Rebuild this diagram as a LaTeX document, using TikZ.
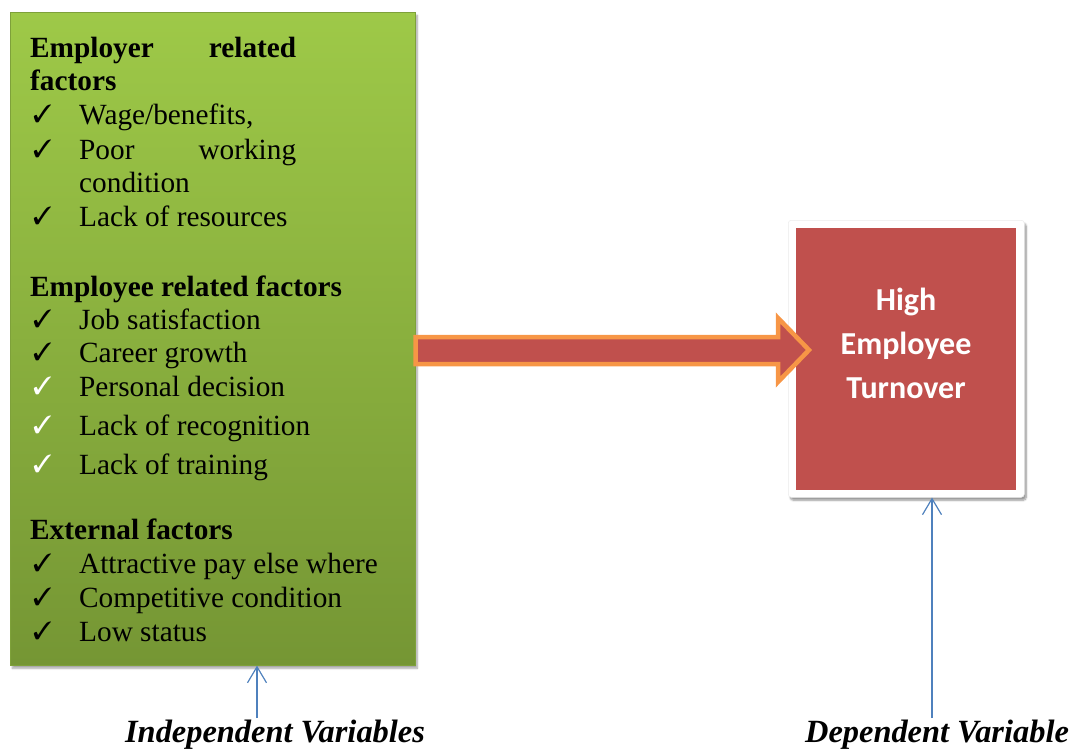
\documentclass[tikz,border=0pt]{standalone}
\usepackage{fontspec}
\usepackage{pifont}
\setmainfont{Liberation Serif}
\newfontfamily\boxfont{Carlito}
\usetikzlibrary{arrows.meta,shadows.blur,positioning}
\definecolor{greentop}{RGB}{158,201,72}
\definecolor{greenbot}{RGB}{117,150,52}
\definecolor{turnred}{RGB}{192,80,77}
\definecolor{arroworange}{RGB}{247,150,70}
\definecolor{varblue}{RGB}{79,129,189}

% check mark followed by the item text
\newcommand{\tick}[1]{\makebox[46pt][l]{\raisebox{2pt}{\scalebox{0.85}{\ding{51}}}}#1}
\newcommand{\wtick}[1]{\makebox[46pt][l]{\raisebox{2pt}{\scalebox{0.85}{\textcolor{white}{\ding{51}}}}}#1}

\begin{document}
\begin{tikzpicture}[
  x=1pt, y=-1pt,
  line/.style={anchor=base west, inner sep=0pt, font=\fontsize{29.3}{33}\selectfont},
  varlabel/.style={anchor=base, inner sep=0pt, font=\fontsize{32.4}{36}\selectfont\bfseries\itshape},
  blockarr/.style={draw=arroworange, fill=turnred, line width=4.5pt, line join=miter},
  varline/.style={draw=varblue, line width=1.2pt, -{Straight Barb[length=16pt, width=19pt, line width=1.2pt]}}
]
\useasboundingbox (0,0) rectangle (1071,749);

% factor box
\node[draw=greentop!80!black, line width=0.6pt, shading=axis, top color=greentop, bottom color=greenbot,
      minimum width=405pt, minimum height=653pt, anchor=north west, inner sep=0pt,
      blur shadow={shadow xshift=2pt, shadow yshift=-3pt, shadow blur steps=6, shadow opacity=35}]
      (factors) at (10,12) {};

% employer related factors
\node[line] (emp1) at (30,58) {\hbox to 266pt{\bfseries Employer\hfill related}};
\node[line] (emp2) at (30,91) {\bfseries factors};
\node[line] (wage) at (33,125) {\tick{Wage/benefits,}};
\node[line] (poor) at (33,160) {\hbox to 263pt{\tick{Poor}\hfill working}};
\node[line] (cond) at (79,192) {condition};
\node[line] (lack) at (33,226) {\tick{Lack of resources}};

% employee related factors
\node[line] (empl) at (30,296) {\bfseries Employee related factors};
\node[line] (job) at (33,329) {\tick{Job satisfaction}};
\node[line] (career) at (33,362) {\tick{Career growth}};
\node[line] (pers) at (33,396) {\wtick{Personal decision}};
\node[line] (recog) at (33,435) {\wtick{Lack of recognition}};
\node[line] (train) at (33,474) {\wtick{Lack of training}};

% external factors
\node[line] (ext) at (30,539) {\bfseries External factors};
\node[line] (pay) at (33,573) {\tick{Attractive pay else where}};
\node[line] (comp) at (33,607) {\tick{Competitive condition}};
\node[line] (low) at (33,641) {\tick{Low status}};

% outcome box
\node[fill=white, draw=black!8, line width=0.5pt, rounded corners=3pt, minimum width=236pt, minimum height=277pt, anchor=north west,
      blur shadow={shadow xshift=2pt, shadow yshift=-3pt, shadow blur steps=6, shadow opacity=40}]
      (frame) at (788,220) {};
\node[fill=turnred, minimum width=220pt, minimum height=262pt, anchor=north west, inner sep=0pt]
      (turnover) at (796,228) {};
\node[text=white, align=center, font=\fontsize{32}{44}\selectfont\boxfont\bfseries]
      (turntext) at (906,343) {High\\Employee\\Turnover};

% block arrow between the boxes
\coordinate (tip) at (809,350);
\draw[blockarr] (factors.east |- 0,337) -- (778,337) -- (778,318) -- (tip)
  -- (778,382) -- (778,364) -- (factors.east |- 0,364) -- cycle;

% variable labels
\node[varlabel] (indep) at (275,742) {Independent Variables};
\node[varlabel] (dep) at (937,742) {Dependent Variable};
\coordinate (indeptop) at (257,718);
\coordinate (deptop) at (932,718);
\draw[varline] (indeptop) -- (factors.south -| indeptop);
\draw[varline] (deptop) -- (frame.south -| deptop);
\end{tikzpicture}
\end{document}
